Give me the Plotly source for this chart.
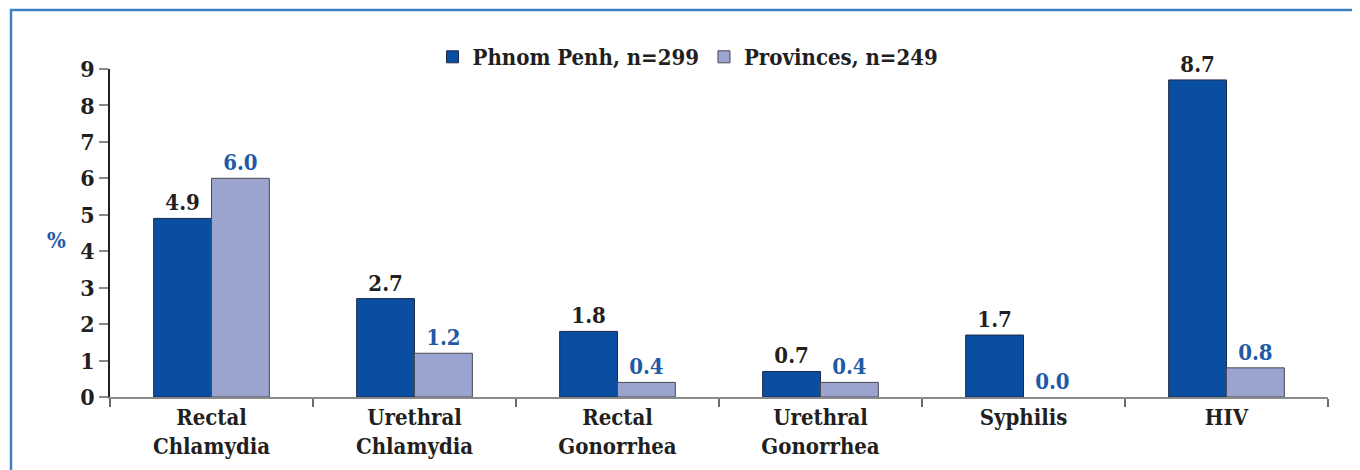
import plotly.graph_objects as go

categories = ["Rectal<br>Chlamydia", "Urethral<br>Chlamydia", "Rectal<br>Gonorrhea",
              "Urethral<br>Gonorrhea", "Syphilis", "HIV"]
phnom_penh = [4.9, 2.7, 1.8, 0.7, 1.7, 8.7]
provinces = [6.0, 1.2, 0.4, 0.4, 0.0, 0.8]
series_names = ["Phnom Penh, n=299", "Provinces, n=249"]
y_ticks = [0, 1, 2, 3, 4, 5, 6, 7, 8, 9]

FONT = "DejaVu Serif Condensed, DejaVu Serif"
DARK = "#0A4EA2"
LIGHT = "#9BA3CF"
LABEL_BLUE = "#1F5AA6"
TEXT = "#231F20"

OFF = 8
W, H = 1360, 470
L, R, T, B = 110 - OFF, 32 + OFF, 69 - OFF, 73 + OFF
pw, ph = W - L - R, H - T - B

def py(ypix):
    return (H - B - (ypix - OFF)) / ph

def px(xpix):
    return ((xpix - OFF) - L) / pw

fig = go.Figure()
fig.add_trace(go.Bar(
    x=categories, y=phnom_penh, name=series_names[0],
    marker=dict(color=DARK, line=dict(color="#1B2A48", width=1)),
    text=[f"{v:.1f}" for v in phnom_penh], textposition="outside",
    textfont=dict(family=FONT, size=22, color=TEXT, weight="bold"),
    cliponaxis=False,
))
fig.add_trace(go.Bar(
    x=categories, y=provinces, name=series_names[1],
    marker=dict(color=LIGHT,
                line=dict(color="#4A4A55", width=[0 if v == 0 else 1 for v in provinces])),
    text=[f"{v:.1f}" for v in provinces], textposition="outside",
    textfont=dict(family=FONT, size=22, color=LABEL_BLUE, weight="bold"),
    cliponaxis=False,
))

fig.update_layout(
    width=W, height=H,
    margin=dict(l=L, r=R, t=T, b=B),
    paper_bgcolor="white", plot_bgcolor="white",
    barmode="group", bargap=0.43, bargroupgap=0,
    font=dict(family=FONT, size=22, color=TEXT, weight="bold"),
    showlegend=True,
    legend=dict(orientation="h", x=px(688), xanchor="center",
                y=py(57), yanchor="middle",
                font=dict(family=FONT, size=22, color=TEXT, weight="bold"),
                traceorder="normal", bgcolor="rgba(0,0,0,0)"),
    xaxis=dict(showline=True, linecolor="#8A8A8A", linewidth=2,
               ticks="outside", tickson="boundaries", ticklen=8,
               tickcolor="#6A6A6A", tickwidth=1.5,
               tickfont=dict(family=FONT, size=22, color=TEXT, weight="bold"),
               showgrid=False, zeroline=False),
    yaxis=dict(range=[0, 9], tickvals=y_ticks, showline=True,
               linecolor="#231F20", linewidth=1.5,
               ticks="outside", ticklen=9, tickcolor="#8A8A8A", tickwidth=2,
               tickfont=dict(family=FONT, size=23, color=TEXT, weight="bold"),
               showgrid=False, zeroline=False),
    annotations=[dict(text="%", xref="paper", yref="paper",
                      x=px(45), y=py(240), showarrow=False,
                      font=dict(family=FONT, size=22, color=LABEL_BLUE, weight="bold"))],
    shapes=[dict(type="rect", xref="paper", yref="paper",
                 x0=px(11), x1=1.2, y0=-0.5, y1=py(10),
                 line=dict(color="#3F7FC6", width=2.5), layer="below")],
)

fig.write_html("out.html")
